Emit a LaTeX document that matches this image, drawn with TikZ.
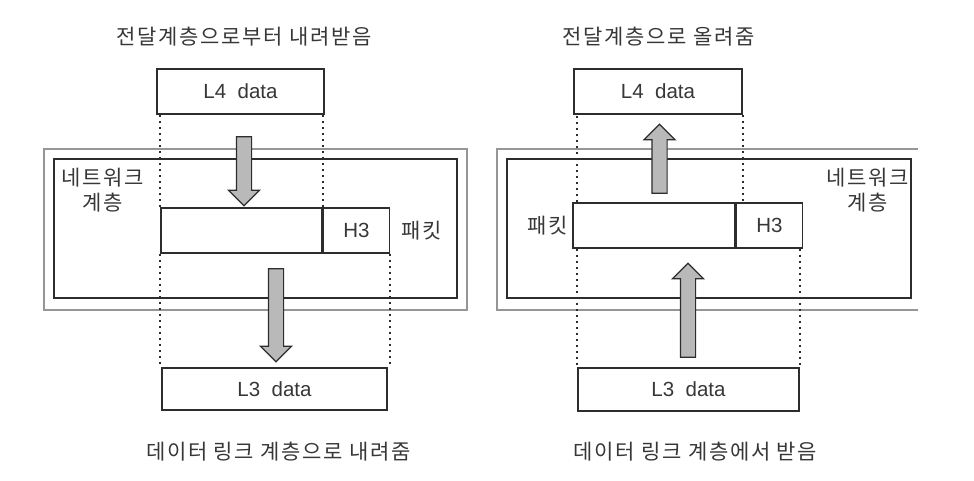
\documentclass[tikz,border=0pt]{standalone}
\usepackage{fontspec}
\setmainfont{Liberation Sans}
\newfontfamily\krfont[LetterSpace=8]{Noto Sans CJK KR}
\usepackage{xcolor}
\definecolor{InkGray}{RGB}{45,45,45}
\definecolor{TextGray}{RGB}{55,55,55}
\definecolor{FrameGray}{RGB}{150,150,150}
\definecolor{ArrowFill}{RGB}{185,185,185}
\usepackage{tikz}
\usetikzlibrary{
    positioning,
    shapes.arrows
}

\begin{document}
\begin{tikzpicture}[
    x=1pt,
    y=-1pt,
%
    databox/.style={
        draw=InkGray,
        line width=1.4pt,
        fill=white,
        inner sep=0pt,
        minimum height=45pt,
        text=TextGray,
        font=\fontsize{20.5}{24}\selectfont
    },
%
    caption/.style={
        inner sep=0pt,
        text=TextGray,
        align=center,
        font=\krfont\fontsize{21}{25}\selectfont
    },
%
    frame/.style={
        draw=FrameGray,
        line width=1.1pt
    },
%
    layer/.style={
        draw=InkGray,
        line width=1.8pt
    },
%
    guide/.style={
        draw=InkGray,
        line width=1.7pt,
        dash pattern=on 2.5pt off 3.5pt
    },
%
    flow/.style={
        single arrow,
        draw=InkGray,
        fill=ArrowFill,
        line width=1.2pt,
        inner xsep=0pt,
        inner ysep=7pt,
        single arrow head extend=8pt,
        single arrow tip angle=90
    }
]
\useasboundingbox (0,0) rectangle (974,480);
%
% Receiving side: handed down from the transport layer.
%
\draw[frame] (44,149) rectangle (467,310);
\draw[layer] (54,159) rectangle (457,298);
\node[databox, minimum width=167pt] (l4L) at (240.5,91.5) {L4~~data};
\node[databox, minimum width=161pt] (pktL) at (241.5,230.5) {};
\node[
    databox,
    minimum width=66pt,
    right=0pt of pktL
] (hL) {H3};
\node[databox, minimum width=225pt, minimum height=42pt] (l3L) at (274.5,389) {L3~~data};
\draw[guide] (pktL.north west) -- (pktL.north west |- l4L.south);
\draw[guide] (hL.north west) -- (hL.north west |- l4L.south);
\draw[guide] (pktL.south west) -- (pktL.south west |- l3L.north);
\draw[guide] (hL.south east) -- (hL.south east |- l3L.north);
\node[flow, rotate=-90, minimum height=69pt] (dnA) at (244,167.5) {};
\node[flow, rotate=-90, minimum height=93pt] (dnB) at (276,311.5) {};
\node[caption] (netL) at (103,190) {네트워크\\계층};
\node[
    caption,
    right=11pt of hL
] (tagL) {패킷};
\node[caption] (topL) at (244.5,37) {전달계층으로부터 내려받음};
\node[caption] (botL) at (278.5,452) {데이터 링크 계층으로 내려줌};
%
% Sending side: passed up to the transport layer.
%
\draw[frame] (918,149) -- (497,149) -- (497,310) -- (918,310);
\draw[layer] (507,159) rectangle (911,298);
\node[databox, minimum width=168pt] (l4R) at (658,91.5) {L4~~data};
\node[databox, minimum width=162pt] (pktR) at (654,225.5) {};
\node[
    databox,
    minimum width=66pt,
    right=0pt of pktR
] (hR) {H3};
\node[databox, minimum width=221pt, minimum height=43pt] (l3R) at (688.5,389.5) {L3~~data};
\draw[guide] (l3R.north west |- pktR.north) -- (l3R.north west |- l4R.south);
\draw[guide] (l4R.south east) -- (l4R.south east |- pktR.north);
\draw[guide] (l3R.north west |- pktR.south) -- (l3R.north west);
\draw[guide] (l3R.north east |- pktR.south) -- (l3R.north east);
\node[flow, rotate=90, minimum height=69pt] (upA) at (659.5,162.5) {};
\node[flow, rotate=90, minimum height=94pt] (upB) at (688,314) {};
\node[caption] (netR) at (868,190) {네트워크\\계층};
\node[
    caption,
    left=4pt of pktR
] (tagR) {패킷};
\node[caption] (topR) at (659,37) {전달계층으로 올려줌};
\node[caption] (botR) at (695.5,452) {데이터 링크 계층에서 받음};
%
\end{tikzpicture}
\end{document}
